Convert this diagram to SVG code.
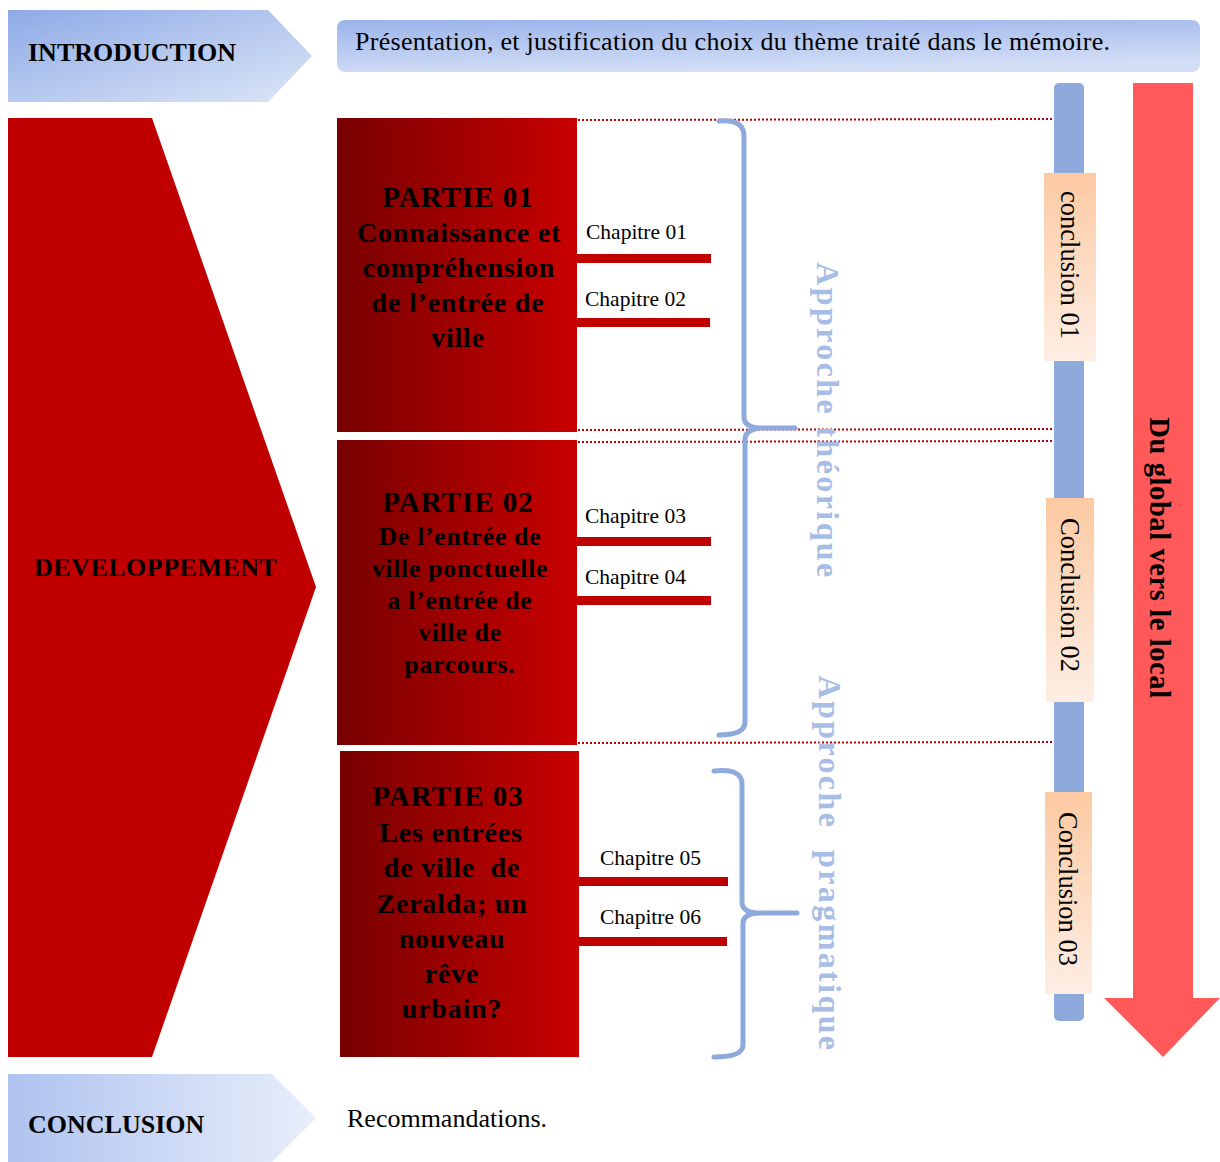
<svg xmlns="http://www.w3.org/2000/svg" width="1220" height="1162" viewBox="0 0 1220 1162">
<defs>
<linearGradient id="gIntro" x1="0" y1="0" x2="1" y2="1"><stop offset="0" stop-color="#8EAAE6"/><stop offset="1" stop-color="#DDE6F7"/></linearGradient>
<linearGradient id="gConc" x1="0" y1="0" x2="1" y2="0"><stop offset="0" stop-color="#AFC3F0"/><stop offset="1" stop-color="#E8EEFA"/></linearGradient>
<linearGradient id="gTop" x1="0" y1="0" x2="0.3" y2="1"><stop offset="0" stop-color="#9AB3EA"/><stop offset="1" stop-color="#D2DEF6"/></linearGradient>
<linearGradient id="gPart" x1="0" y1="0" x2="1" y2="0"><stop offset="0" stop-color="#780000"/><stop offset="1" stop-color="#C90000"/></linearGradient>
<linearGradient id="gCl" x1="0" y1="0" x2="0" y2="1"><stop offset="0" stop-color="#FCC9A2"/><stop offset="1" stop-color="#FEEEE4"/></linearGradient>
</defs>
<style>
.hd{font-family:"Liberation Serif","Times New Roman",serif;font-weight:bold;font-size:26px;fill:#000}
.pt{font-family:"Liberation Serif","Times New Roman",serif;font-weight:bold;font-size:28px;fill:#000;text-anchor:middle;letter-spacing:0.8px}
.ph{font-size:29px;letter-spacing:1px}
.p2{font-size:25.5px}
.ch{font-family:"Liberation Serif","Times New Roman",serif;font-size:21.5px;fill:#000}
.tx{font-family:"Liberation Serif","Times New Roman",serif;font-size:26px;fill:#000}
.ap{font-family:"Liberation Serif","Times New Roman",serif;font-weight:bold;font-size:32px;fill:#A7BDE6;text-anchor:middle;letter-spacing:2.4px}
.cl{font-family:"Liberation Serif","Times New Roman",serif;font-size:26.5px;fill:#000;text-anchor:middle}
.bar{fill:#C00000}
.dot{stroke:#C00000;stroke-width:2;stroke-dasharray:2 2;fill:none}
.br{stroke:#8EA9DB;stroke-width:5;fill:none;stroke-linecap:round;stroke-linejoin:round}
</style>

<g id="introduction">
<polygon points="8,10 268,10 312,56 268,102 8,102" fill="url(#gIntro)"/>
<text class="hd" x="28" y="61">INTRODUCTION</text>
</g>
<g id="presentation">
<rect x="337" y="20" width="863" height="52" rx="8" fill="url(#gTop)"/>
<text class="tx" x="355" y="50" font-size="25" textLength="755" lengthAdjust="spacing">Présentation, et justification du choix du thème traité dans le mémoire.</text>
</g>

<g id="developpement">
<polygon points="8,118 152,118 316,587 152,1057 8,1057" fill="#C00000"/>
<text class="hd" x="34" y="576" letter-spacing="0.5">DEVELOPPEMENT</text>
</g>

<g id="partie01">
<rect x="337" y="118" width="240" height="314" fill="url(#gPart)"/>
<text class="pt ph" x="458" y="207">PARTIE 01</text>
<text class="pt" x="459" y="242">Connaissance et</text>
<text class="pt" x="459" y="277">compréhension</text>
<text class="pt" x="458" y="312">de l’entrée de</text>
<text class="pt" x="458" y="347">ville</text>
</g>
<g id="partie02">
<rect x="337" y="440" width="240" height="305" fill="url(#gPart)"/>
<text class="pt ph" x="458" y="512">PARTIE 02</text>
<text class="pt p2" x="460" y="545">De l’entrée de</text>
<text class="pt p2" x="460" y="577">ville ponctuelle</text>
<text class="pt p2" x="460" y="609">a l’entrée de</text>
<text class="pt p2" x="460" y="641">ville de</text>
<text class="pt p2" x="460" y="673">parcours.</text>
</g>
<g id="partie03">
<rect x="340" y="751" width="239" height="306" fill="url(#gPart)"/>
<text class="pt ph" x="448" y="806">PARTIE 03</text>
<text class="pt" x="451" y="842">Les entrées</text>
<text class="pt" x="452" y="877" xml:space="preserve">de ville  de</text>
<text class="pt" x="452" y="913">Zeralda; un</text>
<text class="pt" x="452" y="948">nouveau</text>
<text class="pt" x="452" y="983">rêve</text>
<text class="pt" x="452" y="1018">urbain?</text>
</g>

<g id="chapitres">
<g id="chapitre01"><text class="ch" x="586" y="239">Chapitre 01</text><rect class="bar" x="577" y="254" width="134" height="9"/></g>
<g id="chapitre02"><text class="ch" x="585" y="306">Chapitre 02</text><rect class="bar" x="577" y="318" width="133" height="9"/></g>
<g id="chapitre03"><text class="ch" x="585" y="523">Chapitre 03</text><rect class="bar" x="577" y="537" width="134" height="9"/></g>
<g id="chapitre04"><text class="ch" x="585" y="584">Chapitre 04</text><rect class="bar" x="577" y="596" width="134" height="9"/></g>
<g id="chapitre05"><text class="ch" x="600" y="865">Chapitre 05</text><rect class="bar" x="579" y="877" width="149" height="9"/></g>
<g id="chapitre06"><text class="ch" x="600" y="924">Chapitre 06</text><rect class="bar" x="579" y="937" width="148" height="9"/></g>
</g>

<g id="connectors">
<line class="dot" x1="578" y1="120" x2="1054" y2="119"/>
<line class="dot" x1="578" y1="430" x2="1054" y2="429"/>
<line class="dot" x1="578" y1="442" x2="1054" y2="441"/>
<line class="dot" x1="578" y1="743" x2="1054" y2="742"/>
<path class="br" d="M719,121 Q744,119 744,136 L744,418 Q745,428 762,428 L795,428 M762,428 Q745,429 745,440 L745,722 Q745,735 719,735"/>
<path class="br" d="M714,771 Q742,768 742,784 L742,903 Q743,913 760,913 L797,913 M760,913 Q743,913 743,924 L743,1045 Q743,1057 714,1057"/>
</g>

<g id="approche-theorique"><text class="ap" transform="translate(828,421) rotate(90)" y="11">Approche théorique</text></g>
<g id="approche-pragmatique"><text class="ap" transform="translate(830,864) rotate(90)" y="11" letter-spacing="2px" xml:space="preserve">Approche  pragmatique</text></g>

<g id="timeline"><rect x="1054" y="83" width="30" height="938" rx="5" fill="#8EA9DB"/></g>
<g id="conclusion01"><rect x="1044" y="173" width="52" height="188" fill="url(#gCl)"/><text class="cl" transform="translate(1070,265) rotate(90)" y="9">conclusion 01</text></g>
<g id="conclusion02"><rect x="1046" y="498" width="48" height="204" fill="url(#gCl)"/><text class="cl" transform="translate(1070,595) rotate(90)" y="9">Conclusion 02</text></g>
<g id="conclusion03"><rect x="1045" y="792" width="47" height="202" fill="url(#gCl)"/><text class="cl" transform="translate(1068,889) rotate(90)" y="9">Conclusion 03</text></g>

<g id="global-local">
<polygon points="1133,83 1193,83 1193,998 1220,998 1163,1057 1104,998 1133,998" fill="#FF5959"/>
<text transform="translate(1160,558) rotate(90)" y="10" text-anchor="middle" style="font-family:'Liberation Serif','Times New Roman',serif;font-weight:bold;font-size:28.5px;letter-spacing:0.6px;fill:#000">Du global vers le local</text>
</g>

<g id="conclusion">
<polygon points="8,1074 272,1074 316,1118 272,1162 8,1162" fill="url(#gConc)"/>
<text class="hd" x="28" y="1133">CONCLUSION</text>
</g>
<g id="recommandations"><text class="tx" x="347" y="1127">Recommandations.</text></g>
</svg>
